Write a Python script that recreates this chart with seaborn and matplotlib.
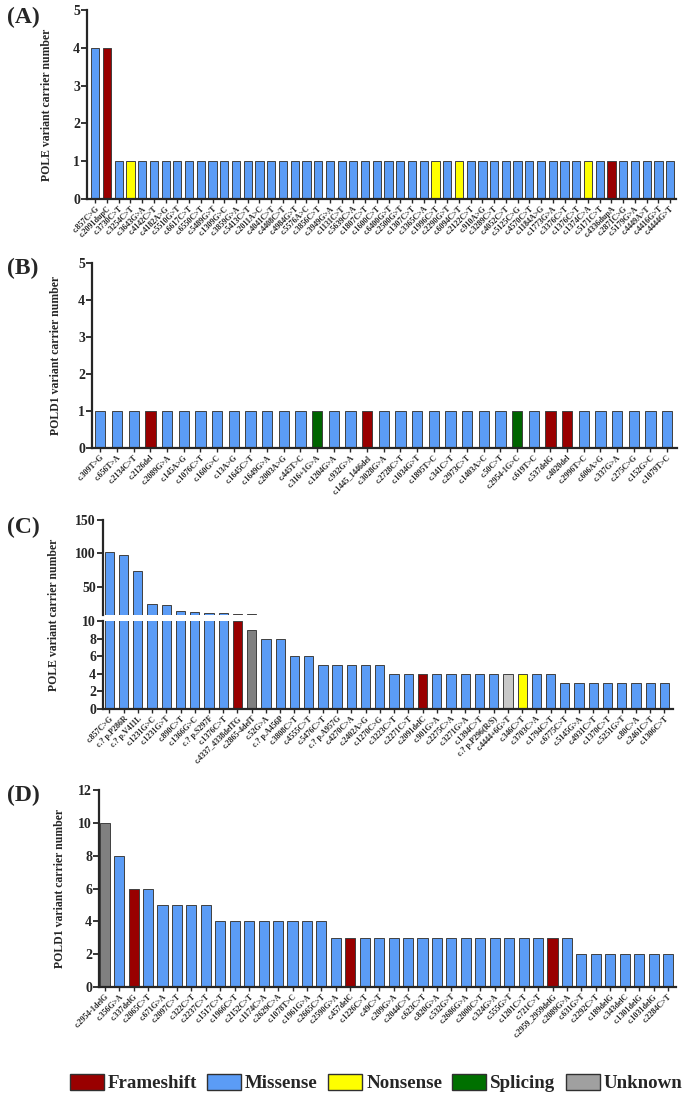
import matplotlib
matplotlib.use("Agg")
import matplotlib.pyplot as plt
from matplotlib.patches import Patch
import seaborn as sns
import pandas as pd

# ---- data ----
A_labels = ["c.857C>G", "c.2091dupC", "c.3730C>T", "c.3254C>T", "c.3643G>A", "c.4142C>T",
            "c.4182A>G", "c.5510G>T", "c.6617C>T", "c.6550C>T", "c.5489G>T", "c.1309G>C",
            "c.3859G>A", "c.5413C>T", "c.2011A>C", "c.4041C>T", "c.4408C>T", "c.4984G>T",
            "c.5576A>C", "c.3856C>T", "c.3949G>A", "c.1131C>T", "c.5639C>A", "c.1807C>T",
            "c.1600C>T", "c.6400G>T", "c.2500G>T", "c.1307C>T", "c.3365C>A", "c.1996C>T",
            "c.2290G>T", "c.6094C>T", "c.2122C>T", "c.910A>G", "c.3289C>T", "c.4052C>T",
            "c.5125C>G", "c.4570C>T", "c.1184A>G", "c.1773G>A", "c.3376C>T", "c.1376C>T",
            "c.1374C>A", "c.5171C>T", "c.4336dupA", "c.2871C>G", "c.5179G>A", "c.4449A>T",
            "c.4416G>T", "c.4444G>T"]
A_values = [4, 4, 1, 1, 1, 1, 1, 1, 1, 1, 1, 1, 1, 1, 1, 1, 1, 1, 1, 1, 1, 1, 1, 1, 1,
            1, 1, 1, 1, 1, 1, 1, 1, 1, 1, 1, 1, 1, 1, 1, 1, 1, 1, 1, 1, 1, 1, 1, 1, 1]
A_types = "MFMNMMMMMMMMMMMMMMMMMMMMMMMMMNMNMMMMMMMMMMNMFMMMMM"

B_labels = ["c.309T>G", "c.656T>A", "c.2134C>T", "c.2126del", "c.2089G>A", "c.145A>G",
            "c.1076C>T", "c.160G>C", "c.13A>G", "c.1645C>T", "c.1649G>A", "c.2003A>G",
            "c.445T>C", "c.316+1G>A", "c.1204G>A", "c.932G>A", "c.1445_1446del", "c.3028G>A",
            "c.2728C>T", "c.1034G>T", "c.1895T>C", "c.341C>T", "c.2973C>T", "c.1403A>C",
            "c.50C>T", "c.2954-1G>C", "c.619T>C", "c.537delG", "c.4020del", "c.2996T>C",
            "c.606A>G", "c.337G>A", "c.275C>G", "c.152G>C", "c.1079T>C"]
B_values = [1, 1, 1, 1, 1, 1, 1, 1, 1, 1, 1, 1, 1, 1, 1, 1, 1, 1, 1, 1, 1, 1, 1, 1, 1,
            1, 1, 1, 1, 1, 1, 1, 1, 1, 1]
B_types = "MMMFMMMMMMMMMSMMFMMMMMMMMSMFFMMMMMM"

C_labels = ["c.857C>G", "c.? p.P286R", "c.? p.V411L", "c.1231G>C", "c.1231G>T", "c.890C>T",
            "c.1366G>C", "c.? p.S297F", "c.1376C>T", "c.4337_4338delTG", "c.2865-4delT",
            "c.52G>A", "c.? p.A456P", "c.3808C>T", "c.4555C>T", "c.5476C>T", "c.? p.A957G",
            "c.4270C>A", "c.2402A>G", "c.1270C>G", "c.3223C>T", "c.2271C>T", "c.2091delC",
            "c.901G>A", "c.2275C>A", "c.3271G>A", "c.1394C>T", "c.? p.P296(R/S)",
            "c.4444+6G>T", "c.346C>T", "c.3703C>A", "c.1794C>T", "c.6775C>T", "c.5145G>A",
            "c.4931C>T", "c.1370C>T", "c.5251G>T", "c.80C>A", "c.2461C>T", "c.1306C>T"]
C_values = [102, 98, 74, 24, 23, 14, 13, 11, 11, 10, 9, 8, 8, 6, 6, 5, 5, 5, 5, 5,
            4, 4, 4, 4, 4, 4, 4, 4, 4, 4, 4, 4, 3, 3, 3, 3, 3, 3, 3, 3]
C_types = "MMMMMMMMMFUMMMMMMMMMMMFMMMMMuNMMMMMMMMMM"

D_labels = ["c.2954-1delG", "c.356G>A", "c.337delG", "c.2065C>T", "c.671G>A", "c.2097C>T",
            "c.322C>T", "c.2237C>T", "c.1517C>T", "c.1966C>T", "c.2152C>T", "c.1174C>A",
            "c.2629C>A", "c.1078T>C", "c.1961G>A", "c.2665C>T", "c.2590G>A", "c.457delC",
            "c.1226C>T", "c.49C>T", "c.209G>A", "c.2044C>T", "c.623C>T", "c.820G>A",
            "c.532G>T", "c.2686G>A", "c.2000C>T", "c.324G>A", "c.555G>T", "c.1201C>T",
            "c.721C>T", "c.2959_2959delG", "c.2089G>A", "c.631G>T", "c.2292C>T",
            "c.189delG", "c.343delC", "c.1301delG", "c.1031delG", "c.2284C>T"]
D_values = [10, 8, 6, 6, 5, 5, 5, 5, 4, 4, 4, 4, 4, 4, 4, 4, 3, 3, 3, 3, 3, 3, 3, 3,
            3, 3, 3, 3, 3, 3, 3, 3, 3, 2, 2, 2, 2, 2, 2, 2]
D_types = "UMFMMMMMMMMMMMMMMFMMMMMMMMMMMMMFMMMMMMMM"

COLORS = {"F": "#990000", "M": "#5b9cf6", "N": "#ffff00", "S": "#006400",
          "U": "#808080", "u": "#c8c8c8"}
legend_names = ["Frameshift", "Missense", "Nonsense", "Splicing", "Unknown"]
legend_colors = ["#990000", "#5b9cf6", "#ffff00", "#007000", "#a0a0a0"]

sns.set_style("ticks")
plt.rcParams['font.family'] = ['Liberation Serif', 'DejaVu Serif']
plt.rcParams['font.weight'] = 'bold'
plt.rcParams['axes.labelweight'] = 'bold'

W, H = 685, 1099
fig = plt.figure(figsize=(W / 100, H / 100), dpi=100)


def box(l, r, t, b):
    return [l / W, 1 - b / H, (r - l) / W, (b - t) / H]


def bars(ax, labels, values, types, width):
    df = pd.DataFrame({"label": labels, "count": values})
    pal = {lab: COLORS[k] for lab, k in zip(labels, types)}
    sns.barplot(data=df, x="label", y="count", hue="label", palette=pal, legend=False,
                width=width, saturation=1, edgecolor="#404040", linewidth=0.7, ax=ax)
    for s in ["left", "bottom"]:
        ax.spines[s].set_linewidth(1.6)
    sns.despine(ax=ax)
    ax.tick_params(axis="y", labelsize=10, width=1.3, length=4, pad=1)
    ax.tick_params(axis="x", labelsize=5.8, width=1.0, length=3, pad=1)
    ax.set_xlabel("")
    ax.set_ylabel("")


def xlabels(ax):
    ax.tick_params(axis="x", labelrotation=45)
    for t in ax.get_xticklabels():
        t.set_ha("right")
        t.set_rotation_mode("anchor")


# (A)
axA = fig.add_axes(box(87, 676, 10, 199))
bars(axA, A_labels, A_values, A_types, 0.7)
axA.set_ylim(0, 5)
axA.set_xlim(-0.7, len(A_values) - 0.5)
xlabels(axA)
axA.set_ylabel("POLE variant carrier number", fontsize=8.5)
axA.yaxis.set_label_coords(-0.058, 0.5)

# (B)
axB = fig.add_axes(box(92, 677, 263, 448))
bars(axB, B_labels, B_values, B_types, 0.62)
axB.set_ylim(0, 5)
axB.set_xlim(-0.5, len(B_values) - 0.4)
xlabels(axB)
axB.set_ylabel("POLD1 variant carrier number", fontsize=8.5)
axB.yaxis.set_label_coords(-0.052, 0.5)

# (C) broken axis
axCu = fig.add_axes(box(103, 673, 520, 615))
bars(axCu, C_labels, C_values, C_types, 0.65)
axCu.set_ylim(8, 150)
axCu.set_yticks([50, 100, 150])
axCu.set_xlim(-0.45, len(C_values) - 0.4)
axCu.spines["bottom"].set_visible(False)
axCu.tick_params(axis="x", bottom=False, labelbottom=False)

axC = fig.add_axes(box(103, 673, 621, 709))
bars(axC, C_labels, C_values, C_types, 0.65)
axC.set_ylim(0, 10)
axC.set_yticks([0, 2, 4, 6, 8, 10])
axC.set_xlim(-0.45, len(C_values) - 0.4)
xlabels(axC)
axC.set_ylabel("POLE variant carrier number", fontsize=8.5)
axC.yaxis.set_label_coords(-0.075, 1.07)

# (D)
axD = fig.add_axes(box(99, 676, 790, 987))
bars(axD, D_labels, D_values, D_types, 0.7)
axD.set_ylim(0, 12)
axD.set_yticks([0, 2, 4, 6, 8, 10, 12])
axD.set_xlim(-0.4, len(D_values) - 0.45)
xlabels(axD)
axD.set_ylabel("POLD1 variant carrier number", fontsize=8.5)
axD.yaxis.set_label_coords(-0.058, 0.5)

for lab, y in [("(A)", 17), ("(B)", 268), ("(C)", 527), ("(D)", 795)]:
    fig.text(7 / W, 1 - y / H, lab, fontsize=17, fontweight="bold", va="center", ha="left")

handles = [Patch(facecolor=c, edgecolor="#303030", linewidth=1.0, label=n)
           for n, c in zip(legend_names, legend_colors)]
fig.legend(handles=handles, ncol=5, loc="center", bbox_to_anchor=(0.549, 1 - 1083 / H),
           frameon=False, prop={"weight": "bold", "size": 13.6}, handlelength=1.8,
           handleheight=0.9, columnspacing=0.55, handletextpad=0.2, borderpad=0.1)

fig.savefig("out.png", dpi=100)
